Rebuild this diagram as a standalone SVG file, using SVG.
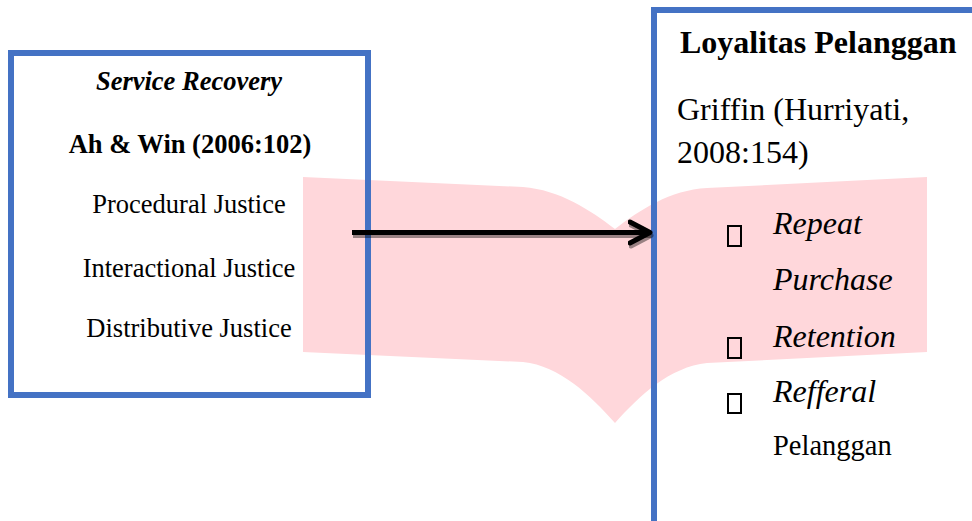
<svg xmlns="http://www.w3.org/2000/svg" width="972" height="521" viewBox="0 0 972 521">
<style>
.box{fill:none;stroke:#4472C4;stroke-width:6}
.t{font-family:"Liberation Serif","Times New Roman",serif;fill:#000}
.l{font-size:26.5px}
.r{font-size:32px}
.s{font-size:28.5px}
.b{font-weight:bold}
.i{font-style:italic}
.tofu{fill:none;stroke:#000;stroke-width:2}
.arr{fill:none;stroke-width:5;stroke-linecap:butt}
</style>
<defs>
<marker id="headK" markerUnits="userSpaceOnUse" markerWidth="30" markerHeight="30" refX="22" refY="12" orient="auto" viewBox="0 0 30 24">
<polyline points="2,1.5 22,12 2,22.5" fill="none" stroke="#000" stroke-width="5" stroke-linecap="round" stroke-linejoin="round"/>
</marker>
<marker id="headG" markerUnits="userSpaceOnUse" markerWidth="30" markerHeight="30" refX="22" refY="12" orient="auto" viewBox="0 0 30 24">
<polyline points="2,1.5 22,12 2,22.5" fill="none" stroke="#000" stroke-opacity="0.4" stroke-width="5" stroke-linecap="round" stroke-linejoin="round"/>
</marker>
</defs>
<rect width="972" height="521" fill="#fff"/>
<path id="ribbon" d="M303,177 L523,187 C560,190 590,210 615,229 C640,210 670,190 707,188 L927,177 L927,352 L707,363 C670,367 640,395 615,423 C590,395 560,366 523,362 L303,352 Z" fill="#FFD7DB"/>
<g id="node-service-recovery">
<rect class="box" x="11" y="53" width="357" height="342"/>
<text class="t l b i" x="189" y="90" text-anchor="middle">Service Recovery</text>
<text class="t l b" x="190" y="153" text-anchor="middle">Ah &amp; Win (2006:102)</text>
<text class="t l" x="189" y="213" text-anchor="middle">Procedural Justice</text>
<text class="t l" x="189" y="277" text-anchor="middle">Interactional Justice</text>
<text class="t l" x="189" y="337" text-anchor="middle">Distributive Justice</text>
</g>
<g id="node-loyalitas">
<rect class="box" x="654" y="10" width="400" height="600"/>
<text class="t r b" x="680" y="53">Loyalitas Pelanggan</text>
<text class="t r" x="677" y="120">Griffin (Hurriyati,</text>
<text class="t r" x="677" y="163">2008:154)</text>
<rect class="tofu" x="728" y="226" width="13" height="20"/>
<text class="t r i" x="773" y="234">Repeat</text>
<text class="t r i" x="773" y="290">Purchase</text>
<rect class="tofu" x="728" y="338" width="13" height="20"/>
<text class="t r i" x="773" y="347">Retention</text>
<rect class="tofu" x="728" y="394" width="13" height="19"/>
<text class="t r i" x="773" y="402">Refferal</text>
<text class="t s" x="773" y="455">Pelanggan</text>
</g>
<g id="connectors">
<line class="arr" x1="353" y1="235.5" x2="651" y2="235.5" stroke="#000" stroke-opacity="0.4" marker-end="url(#headG)"/>
<line class="arr" x1="352" y1="232.5" x2="650" y2="232.5" stroke="#000" marker-end="url(#headK)"/>
</g>
</svg>
